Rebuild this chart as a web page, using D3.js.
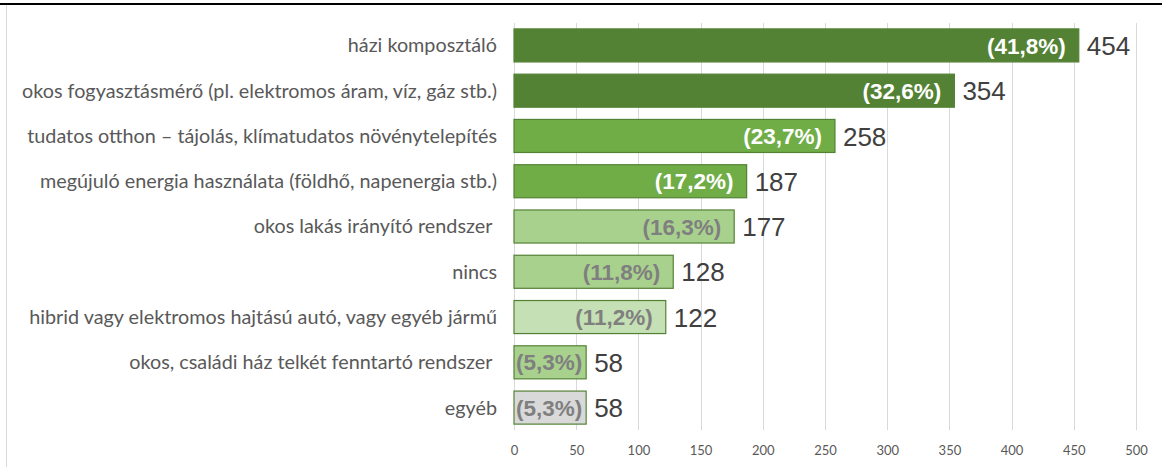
<!DOCTYPE html>
<html>
<head>
<meta charset="utf-8">
<style>
  body { margin: 0; background: #fff; }
  .cat { font-family: Lato, "Open Sans", sans-serif; font-size: 19.8px; fill: #595959; }
  .pct { font-family: "Liberation Sans", Arial, sans-serif; font-size: 22.5px; font-weight: bold; }
  .val { font-family: "Liberation Sans", Arial, sans-serif; font-size: 26px; fill: #404040; }
  .tick text { font-family: Lato, sans-serif; font-size: 13px; fill: #595959; }
</style>
</head>
<body>
<div id="chart"></div>
<script src="https://cdn.jsdelivr.net/npm/d3@7"></script>
<script>
  // chart data
  var categories = [
    "házi komposztáló",
    "okos fogyasztásmérő (pl. elektromos áram, víz, gáz stb.)",
    "tudatos otthon – tájolás, klímatudatos növénytelepítés",
    "megújuló energia használata (földhő, napenergia stb.)",
    "okos lakás irányító rendszer ",
    "nincs",
    "hibrid vagy elektromos hajtású autó, vagy egyéb jármű",
    "okos, családi ház telkét fenntartó rendszer ",
    "egyéb"
  ];
  var counts   = [454, 354, 258, 187, 177, 128, 122, 58, 58];
  var percents = ["41,8", "32,6", "23,7", "17,2", "16,3", "11,8", "11,2", "5,3", "5,3"];
  var xTicks   = [0, 50, 100, 150, 200, 250, 300, 350, 400, 450, 500];

  var fills    = ["#548235", "#548235", "#70ad47", "#70ad47", "#a9d18e", "#a9d18e", "#c5e0b4", "#a9d18e", "#d9d9d9"];
  var pctColor = ["#fff", "#fff", "#fff", "#fff", "#7f7f7f", "#7f7f7f", "#7f7f7f", "#7f7f7f", "#7f7f7f"];

  var width = 1162, height = 467;

  var svg = d3.select("#chart").append("svg")
    .attr("width", width)
    .attr("height", height);

  // frame bits
  svg.append("line")
    .attr("x1", 0).attr("x2", width)
    .attr("y1", 4).attr("y2", 4)
    .attr("stroke", "#000").attr("stroke-width", 2);
  svg.append("line")
    .attr("x1", 6.5).attr("x2", 6.5)
    .attr("y1", 5).attr("y2", height)
    .attr("stroke", "#d9d9d9").attr("stroke-width", 1);

  var x = d3.scaleLinear().domain([0, 500]).range([514, 1136]);
  var y = d3.scaleBand().domain(categories).range([23, 430]).paddingInner(0.27).paddingOuter(0.13);

  // gridlines
  svg.append("g")
    .selectAll("line")
    .data(xTicks)
    .join("line")
      .attr("x1", d => Math.round(x(d)) + 0.5)
      .attr("x2", d => Math.round(x(d)) + 0.5)
      .attr("y1", 23).attr("y2", 430)
      .attr("stroke", "#d9d9d9");

  // x axis labels
  var xAxis = svg.append("g")
    .attr("transform", "translate(0,440)")
    .call(d3.axisBottom(x).tickValues(xTicks).tickSize(0).tickPadding(6));
  xAxis.select(".domain").remove();

  // bars
  svg.append("g")
    .selectAll("rect")
    .data(counts)
    .join("rect")
      .attr("x", x(0))
      .attr("y", (d, i) => y(categories[i]))
      .attr("width", d => x(d) - x(0))
      .attr("height", y.bandwidth())
      .attr("fill", (d, i) => fills[i])
      .attr("stroke", "#548235")
      .attr("stroke-width", 1.2);

  // category labels
  svg.append("g")
    .selectAll("text")
    .data(categories)
    .join("text")
      .attr("class", "cat")
      .attr("x", 497)
      .attr("y", d => y(d) + y.bandwidth() / 2)
      .attr("dy", "0.35em")
      .attr("text-anchor", "end")
      .attr("xml:space", "preserve")
      .text(d => d);

  // percent labels inside bars, pulled in from the bar end but kept inside short bars
  svg.append("g")
    .selectAll("text")
    .data(percents)
    .join("text")
      .attr("class", "pct")
      .attr("y", (d, i) => y(categories[i]) + y.bandwidth() / 2)
      .attr("dy", "0.36em")
      .attr("text-anchor", "end")
      .attr("fill", (d, i) => pctColor[i])
      .text(d => "(" + d + "%)")
      .attr("x", function (d, i) {
        var barW = x(counts[i]) - x(0),
            tw = this.getComputedTextLength(),
            gap = Math.max(3, Math.min(13, barW - tw - 2));
        return x(counts[i]) - gap;
      });

  // value labels
  svg.append("g")
    .selectAll("text")
    .data(counts)
    .join("text")
      .attr("class", "val")
      .attr("x", d => x(d) + 8)
      .attr("y", (d, i) => y(categories[i]) + y.bandwidth() / 2)
      .attr("dy", "0.37em")
      .text(d => d);
</script>
</body>
</html>
